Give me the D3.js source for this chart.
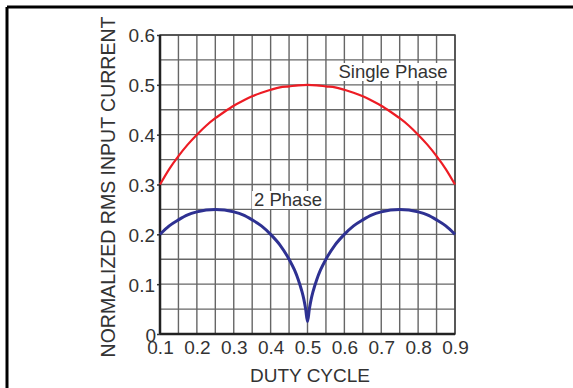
<!DOCTYPE html>
<html>
<head>
<meta charset="utf-8">
<script src="https://cdn.jsdelivr.net/npm/d3@7"></script>
<style>
  html, body { margin: 0; padding: 0; background: #fff; }
  svg { display: block; }
  text { font-family: "Liberation Sans", Arial, sans-serif; fill: #333; }
</style>
</head>
<body>
<svg id="chart" width="573" height="388"></svg>
<script>
// Duty cycle samples
const dutySingle = [0.1, 0.125, 0.15, 0.175, 0.2, 0.225, 0.25, 0.275, 0.3, 0.325, 0.35, 0.375, 0.4, 0.425, 0.45, 0.475, 0.5,
                    0.525, 0.55, 0.575, 0.6, 0.625, 0.65, 0.675, 0.7, 0.725, 0.75, 0.775, 0.8, 0.825, 0.85, 0.875, 0.9];
const singlePhase = [0.300, 0.331, 0.357, 0.380, 0.400, 0.418, 0.433, 0.446, 0.458, 0.468, 0.477, 0.484, 0.490, 0.495, 0.497, 0.499, 0.500,
                     0.499, 0.497, 0.495, 0.490, 0.484, 0.477, 0.468, 0.458, 0.446, 0.433, 0.418, 0.400, 0.380, 0.357, 0.331, 0.300];
const dutyTwo = [0.1, 0.125, 0.15, 0.175, 0.2, 0.225, 0.25, 0.275, 0.3, 0.325, 0.35, 0.375, 0.4, 0.425, 0.45, 0.465, 0.475, 0.485, 0.49, 0.495, 0.5,
                 0.505, 0.51, 0.515, 0.525, 0.535, 0.55, 0.575, 0.6, 0.625, 0.65, 0.675, 0.7, 0.725, 0.75, 0.775, 0.8, 0.825, 0.85, 0.875, 0.9];
const twoPhase = [0.200, 0.217, 0.229, 0.239, 0.245, 0.249, 0.250, 0.249, 0.245, 0.239, 0.229, 0.217, 0.200, 0.179, 0.150, 0.128, 0.109, 0.085, 0.070, 0.050, 0.025,
                  0.050, 0.070, 0.085, 0.109, 0.128, 0.150, 0.179, 0.200, 0.217, 0.229, 0.239, 0.245, 0.249, 0.250, 0.249, 0.245, 0.239, 0.229, 0.217, 0.200];
const xTicks = [0.1, 0.2, 0.3, 0.4, 0.5, 0.6, 0.7, 0.8, 0.9];
const xTickLabels = ["0.1", "0.2", "0.3", "0.4", "0.5", "0.6", "0.7", "0.8", "0.9"];
const yTicks = [0, 0.1, 0.2, 0.3, 0.4, 0.5, 0.6];
const yTickLabels = ["0", "0.1", "0.2", "0.3", "0.4", "0.5", "0.6"];
const xGrid = d3.range(0, 17).map(i => +(0.1 + i * 0.05).toFixed(3));
const yGrid = d3.range(0, 13).map(i => +(i * 0.05).toFixed(3));
const seriesNames = ["Single Phase", "2 Phase"];

const svg = d3.select("#chart");
const L = 160, R = 455, T = 35, B = 334;
const x = d3.scaleLinear().domain([0.1, 0.9]).range([L, R]);
const y = d3.scaleLinear().domain([0, 0.6]).range([B, T]);

// outer frame (top and left lines)
svg.append("line").attr("x1", 7).attr("x2", 573).attr("y1", 7).attr("y2", 7).attr("stroke", "#000").attr("stroke-width", 3);
svg.append("line").attr("x1", 7).attr("x2", 7).attr("y1", 7).attr("y2", 388).attr("stroke", "#000").attr("stroke-width", 3);

// grid
const grid = svg.append("g");
grid.selectAll("line.v").data(xGrid).join("line")
  .attr("x1", d => x(d)).attr("x2", d => x(d)).attr("y1", T).attr("y2", B)
  .attr("stroke", "#666").attr("stroke-width", 1.4);
grid.selectAll("line.h").data(yGrid).join("line")
  .attr("x1", L).attr("x2", R).attr("y1", d => y(d)).attr("y2", d => y(d))
  .attr("stroke", "#666").attr("stroke-width", 1.4);

// axes
const yAxis = svg.append("g").attr("transform", `translate(${L},0)`)
  .call(d3.axisLeft(y).tickValues(yTicks).tickSize(3).tickFormat((d, i) => yTickLabels[i]));
const xAxis = svg.append("g").attr("transform", `translate(0,${B})`)
  .call(d3.axisBottom(x).tickValues(xTicks).tickSize(0).tickFormat((d, i) => xTickLabels[i]));
[xAxis, yAxis].forEach(a => {
  a.select(".domain").remove();
  a.selectAll(".tick line").attr("stroke", "#333").attr("stroke-width", 1.5);
  a.selectAll("text").style("font-size", "19px").attr("fill", "#333");
});
yAxis.selectAll(".tick text").attr("x", -5).attr("dy", "0.36em");
yAxis.selectAll(".tick").filter(d => d === 0).select("text").attr("dy", "0.4em").attr("x", -4);
xAxis.selectAll(".tick text").attr("y", 7).attr("dy", "0.71em");

// plot frame
svg.append("rect").attr("x", L).attr("y", T).attr("width", R - L).attr("height", B - T)
  .attr("fill", "none").attr("stroke", "#444").attr("stroke-width", 1.5);
svg.append("line").attr("x1", L).attr("x2", L).attr("y1", T).attr("y2", B).attr("stroke", "#222").attr("stroke-width", 2.5);
svg.append("line").attr("x1", L).attr("x2", R).attr("y1", B).attr("y2", B).attr("stroke", "#222").attr("stroke-width", 2.5);

// series labels with white boxes
function boxLabel(text, cx, baseline) {
  const t = svg.append("text").attr("x", cx).attr("y", baseline).attr("text-anchor", "middle")
    .style("font-size", "18.5px").text(text);
  const bb = t.node().getBBox();
  svg.insert("rect", () => t.node()).attr("x", bb.x - 2).attr("y", bb.y + 2).attr("width", bb.width + 4).attr("height", bb.height - 3)
    .attr("fill", "#fff");
}
boxLabel(seriesNames[0], 393, 78);
boxLabel(seriesNames[1], 288, 206);

// curves
const line = d3.line().x(d => x(d[0])).y(d => y(d[1])).curve(d3.curveMonotoneX);
svg.append("path").datum(dutySingle.map((d, i) => [d, singlePhase[i]]))
  .attr("d", line).attr("fill", "none").attr("stroke", "#ed1c24").attr("stroke-width", 2.2);
svg.append("path").datum(dutyTwo.map((d, i) => [d, twoPhase[i]]))
  .attr("d", line).attr("fill", "none").attr("stroke", "#2e3192").attr("stroke-width", 3);

// axis titles
svg.append("text").attr("x", 310).attr("y", 382).attr("text-anchor", "middle").style("font-size", "19px").text("DUTY CYCLE");
svg.append("text").attr("transform", "translate(115,187) rotate(-90)").attr("text-anchor", "middle")
  .style("font-size", "19.5px").text("NORMALIZED RMS INPUT CURRENT");
</script>
</body>
</html>
